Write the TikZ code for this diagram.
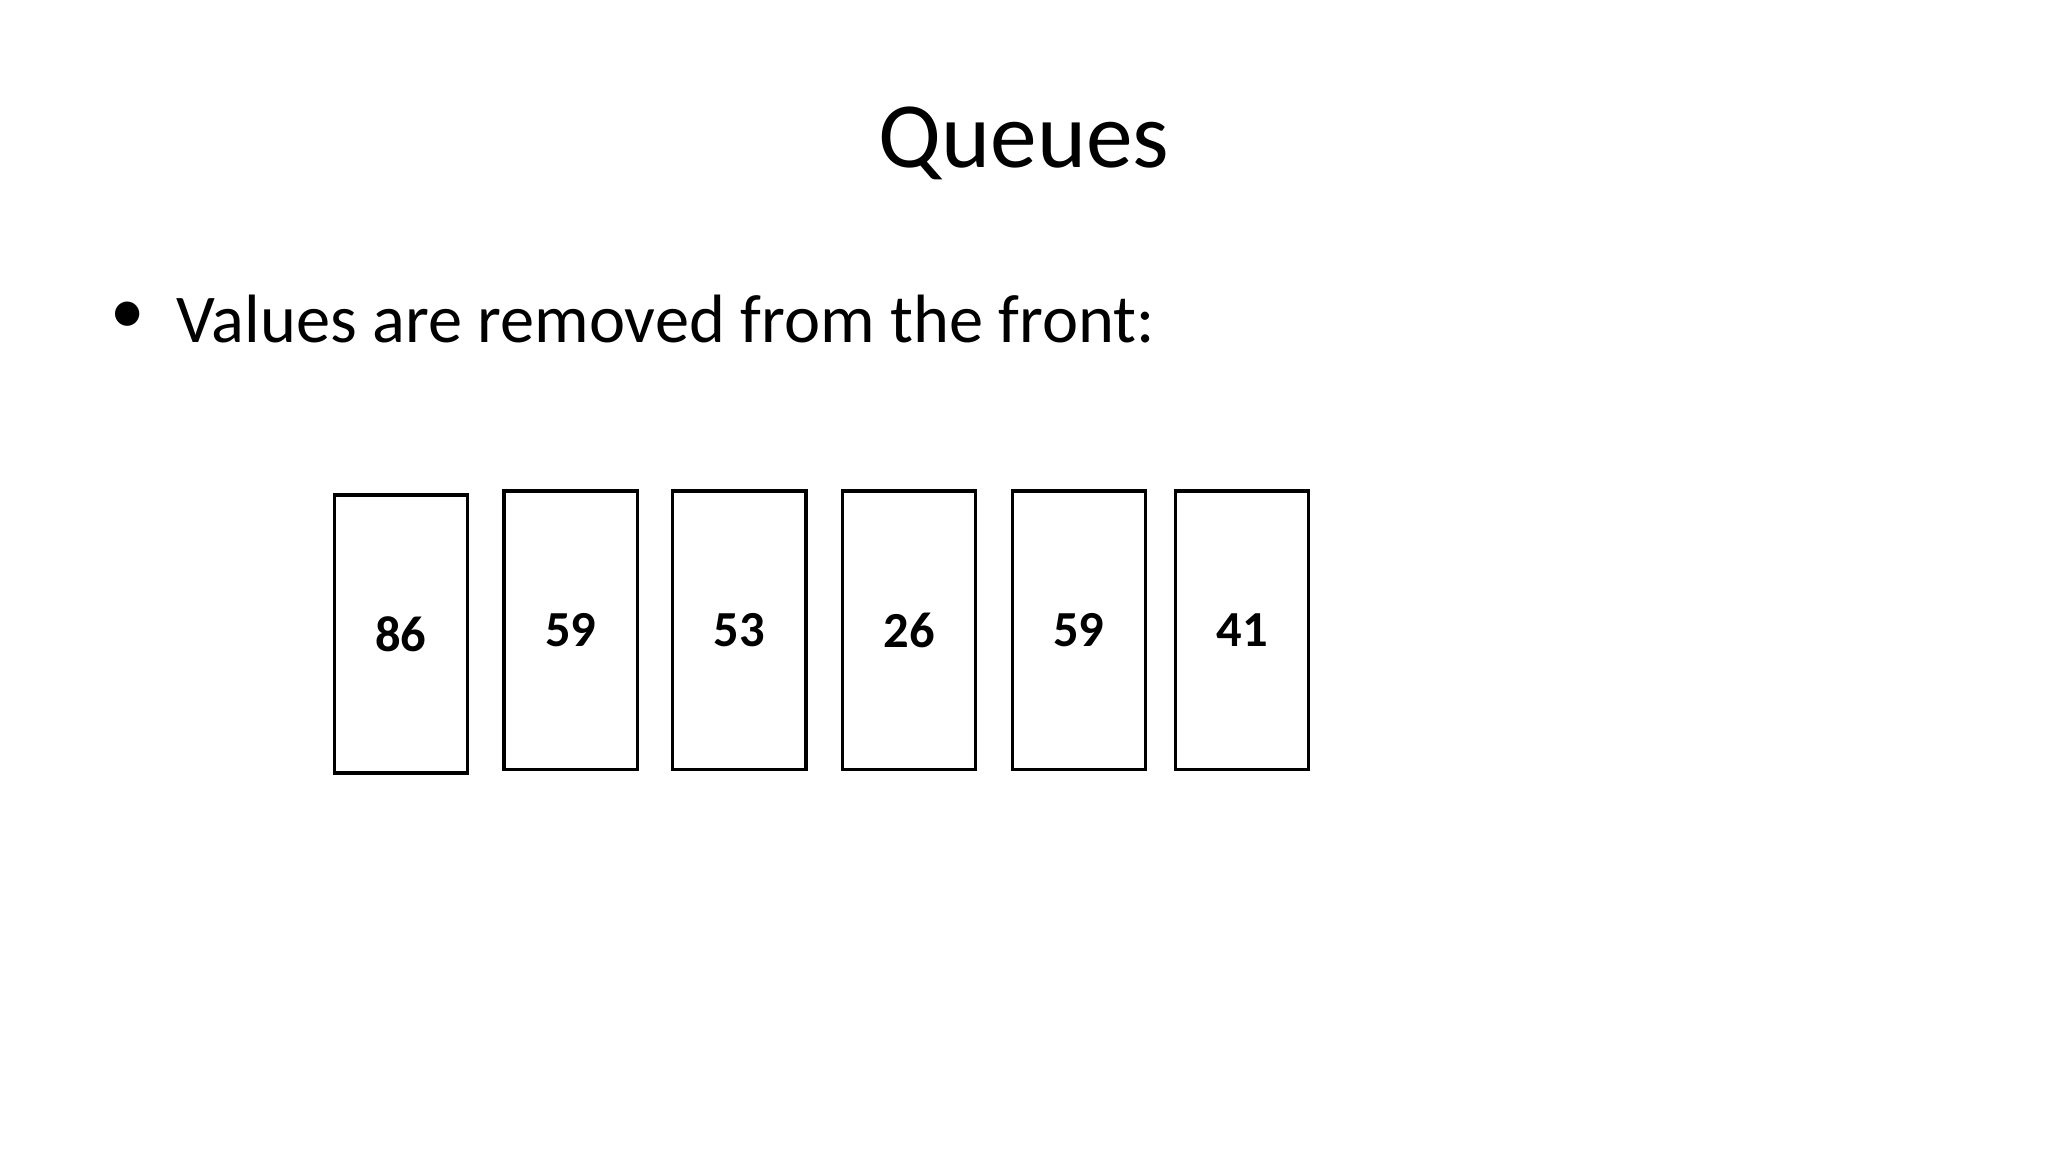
\documentclass[tikz,border=0pt]{standalone}
\usepackage{fontspec}
\setmainfont{Carlito}
\begin{document}
\begin{tikzpicture}[x=0.02cm,y=-0.02cm,
  cell/.style={draw=black,line width=1.5pt,minimum width=2.04cm,minimum height=4.26cm,inner sep=0pt,font=\fontsize{22}{26}\selectfont\bfseries}]
\useasboundingbox (0,0) rectangle (1568,882);
\node (title) at (784,110) {\fontsize{40.7}{48}\selectfont Queues};
\node (bul) at (98,243) {\fontsize{30}{36}\selectfont •};
\node[anchor=base west,inner sep=0pt] (txt) at (135,262) {\fontsize{29.8}{36}\selectfont Values are removed from the front:};
\node[cell] (c1) at (307,485.5) {86};
\node[cell] (c2) at (437,482.5) {59};
\node[cell] (c3) at (566,482.5) {53};
\node[cell] (c4) at (696,482.5) {26};
\node[cell] (c5) at (826,482.5) {59};
\node[cell] (c6) at (951,482.5) {41};
\end{tikzpicture}
\end{document}
